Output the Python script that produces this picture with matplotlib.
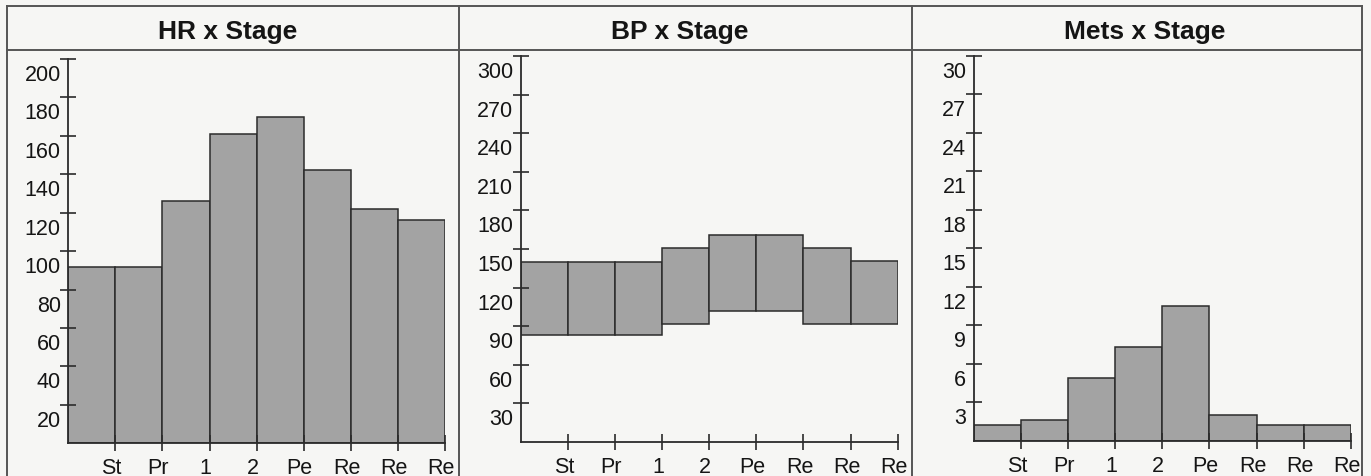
import matplotlib
matplotlib.use("Agg")
import matplotlib.pyplot as plt
import matplotlib.transforms as mtransforms
from matplotlib.lines import Line2D
import numpy as np

# values
stages = ['St', 'Pr', '1', '2', 'Pe', 'Re', 'Re', 'Re']
hr = [92, 92, 126, 161, 170, 142, 122, 116]
bp_low = [83, 83, 83, 92, 102, 102, 92, 92]
bp_high = [140, 140, 140, 151, 161, 161, 151, 141]
mets = [1.2, 1.6, 4.9, 7.3, 10.5, 2.0, 1.2, 1.2]

titles = ['HR x Stage', 'BP x Stage', 'Mets x Stage']
hr_ticks = list(range(20, 201, 20))
bp_ticks = list(range(30, 301, 30))
mets_ticks = list(range(3, 31, 3))

W, H = 1371, 477
bg = '#f6f6f4'
bar_col = '#a3a3a3'
ink = '#2b2b2b'
fs = 15.5

plt.rcParams['font.family'] = ['Liberation Sans', 'DejaVu Sans']

fig = plt.figure(figsize=(W / 100, H / 100), dpi=100, facecolor=bg)


def rect(x0, x1, y_top, y_base):
    return [x0 / W, 1 - y_base / H, (x1 - x0) / W, (y_base - y_top) / H]


def fline(xs, ys):
    fig.add_artist(Line2D([x / W for x in xs], [1 - y / H for y in ys],
                          transform=fig.transFigure, color='#555555', lw=1.4))


# outer frame, title band and separators
fline([7, 1362], [6.5, 6.5])
fline([7, 1362], [50.5, 50.5])
fline([7, 7], [6.5, 477])
fline([1362, 1362], [6.5, 477])
fline([458.5, 458.5], [6.5, 477])
fline([912, 912], [6.5, 477])

title_x = [228, 680, 1145]
for tx, t in zip(title_x, titles):
    fig.text(tx / W, 1 - 39.5 / H, t, ha='center', va='baseline',
             fontsize=19, fontweight='bold', color='#151515')

rects = [rect(68.3, 445, 60, 444.3),
         rect(520.7, 897.7, 57.3, 442.7),
         rect(974, 1350.7, 56.7, 441.7)]

x = np.arange(len(stages)) + 0.5
xt = np.arange(1, len(stages) + 1)

axes = [fig.add_axes(r) for r in rects]

axes[0].bar(x, hr, width=1.0, color=bar_col, edgecolor=ink, linewidth=1.1)
axes[0].set_ylim(0, 200)
axes[0].set_yticks(hr_ticks)

bp_h = np.array(bp_high) - np.array(bp_low)
axes[1].bar(x, bp_h, bottom=bp_low, width=1.0, color=bar_col,
            edgecolor=ink, linewidth=1.1)
axes[1].set_ylim(0, 300)
axes[1].set_yticks(bp_ticks)

axes[2].bar(x, mets, width=1.0, color=bar_col, edgecolor=ink, linewidth=1.1)
axes[2].set_ylim(0, 30)
axes[2].set_yticks(mets_ticks)

down = mtransforms.ScaledTranslation(0, -13 / 100, fig.dpi_scale_trans)
left = mtransforms.ScaledTranslation(-4 / 100, 0, fig.dpi_scale_trans)

for ax in axes:
    ax.set_facecolor('none')
    ax.set_xlim(0, len(stages))
    ax.set_xticks(xt)
    ax.set_xticklabels(stages)
    for s in ['top', 'right']:
        ax.spines[s].set_visible(False)
    for s in ['left', 'bottom']:
        ax.spines[s].set_color(ink)
        ax.spines[s].set_linewidth(1.3)
    ax.tick_params(axis='both', direction='inout', length=11, width=1.2,
                   color=ink, labelsize=fs, labelcolor='#151515')
    ax.tick_params(axis='y', pad=0)
    ax.tick_params(axis='x', pad=4.5)
    for lab in ax.get_yticklabels():
        lab.set_transform(lab.get_transform() + down)
    for lab in ax.get_xticklabels():
        lab.set_transform(lab.get_transform() + left)

fig.savefig('out.png', dpi=100, facecolor=bg)
